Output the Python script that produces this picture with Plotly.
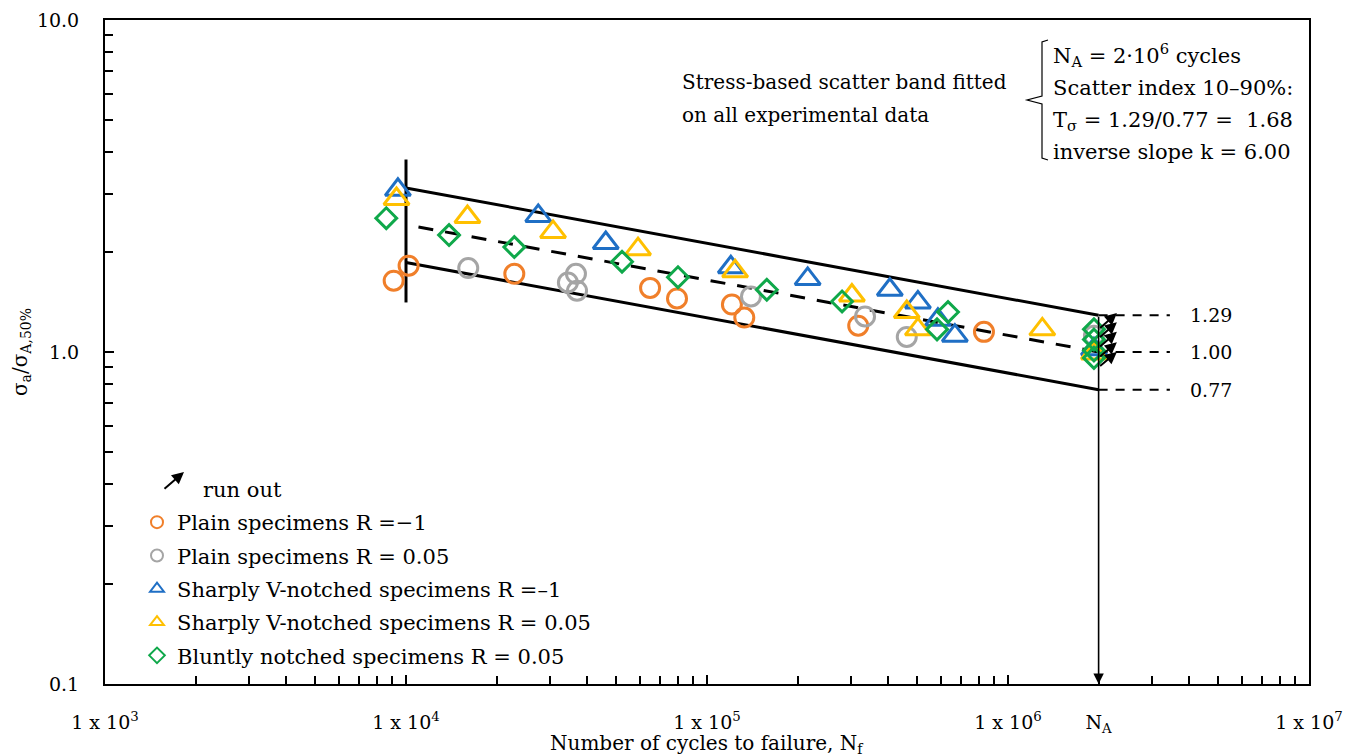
import math
import plotly.graph_objects as go

# ---------------- data ----------------
plain_m1_x = [9100, 10200, 22900, 64700, 79500, 121000, 133000, 318000, 832000]
plain_m1_y = [1.64, 1.82, 1.72, 1.56, 1.45, 1.39, 1.27, 1.20, 1.15]

plain_005_x = [16100, 34500, 36700, 37000, 140000, 335000, 461000, 1930000]
plain_005_y = [1.79, 1.62, 1.72, 1.53, 1.47, 1.28, 1.11, 1.12]

sharp_m1_x = [9400, 27500, 46100, 120000, 216000, 405000, 502000, 585000, 666000, 1930000]
sharp_m1_y = [3.08, 2.57, 2.13, 1.80, 1.66, 1.54, 1.41, 1.25, 1.12, 1.02]

sharp_005_x = [9300, 16000, 30800, 59000, 124000, 303000, 461000, 502000, 1300000, 1930000]
sharp_005_y = [2.89, 2.55, 2.30, 2.04, 1.75, 1.48, 1.32, 1.17, 1.17, 0.99]

blunt_005_x = [8600, 13900, 22900, 52200, 80100, 158000, 281000, 581000, 632000,
               1930000, 1930000, 1930000, 1930000]
blunt_005_y = [2.53, 2.25, 2.07, 1.87, 1.68, 1.54, 1.42, 1.17, 1.32,
               1.17, 1.09, 1.01, 0.96]

N_A = 2e6
band_x = [1e4, N_A]
band_upper = [3.12, 1.29]
band_lower = [1.86, 0.77]
mean_x = [1.1e4, N_A]
mean_y = [2.38, 1.00]
start_line_x = [1e4, 1e4]
start_line_y = [1.41, 3.80]

levels = [1.29, 1.00, 0.77]
level_labels = ["1.29", "1.00", "0.77"]
level_end_x = 3.45e6
level_label_x = 3.95e6

runout_tail_x = [2.0e6, 2.0e6, 2.0e6, 2.0e6, 2.0e6]
runout_tail_y = [1.17, 1.10, 1.03, 0.96, 0.90]
runout_head_x = [2.3e6, 2.3e6, 2.3e6, 2.3e6, 2.3e6]
runout_head_y = [1.31, 1.23, 1.15, 1.07, 1.00]

x_tickvals = [1e3, 1e4, 1e5, 1e6, N_A, 1e7]
x_ticktext = ["1 x 10<sup>3</sup>", "1 x 10<sup>4</sup>", "1 x 10<sup>5</sup>",
              "1 x 10<sup>6</sup>", "N<sub>A</sub>", "1 x 10<sup>7</sup>"]
y_tickvals = [0.1, 1, 10]
y_ticktext = ["0.1", "1.0", "10.0"]

x_title = "Number of cycles to failure, N<sub>f</sub>"
y_title = "\u03c3<sub>a</sub>/\u03c3<sub>A,50%</sub>"

left_note_lines = ["Stress-based scatter band fitted", "on all experimental data"]
right_note_lines = ["N<sub>A</sub> = 2\u00b710<sup>6</sup> cycles",
                    "Scatter index 10\u201390%:",
                    "T<sub>\u03c3</sub> = 1.29/0.77 =  1.68",
                    "inverse slope k = 6.00"]

FONT = "DejaVu Serif"
ORANGE = "#F07F2A"
GRAY = "#A5A5A5"
BLUE = "#1F6FC5"
YELLOW = "#FFC000"
GREEN = "#0FA84A"

fig = go.Figure()

# band lines
fig.add_trace(go.Scatter(x=band_x, y=band_upper, mode="lines",
                         line=dict(color="black", width=3), showlegend=False, hoverinfo="skip"))
fig.add_trace(go.Scatter(x=band_x, y=band_lower, mode="lines",
                         line=dict(color="black", width=3), showlegend=False, hoverinfo="skip"))
fig.add_trace(go.Scatter(x=mean_x, y=mean_y, mode="lines",
                         line=dict(color="black", width=3, dash="15px,12px"),
                         showlegend=False, hoverinfo="skip"))
fig.add_trace(go.Scatter(x=start_line_x, y=start_line_y, mode="lines",
                         line=dict(color="black", width=3), showlegend=False, hoverinfo="skip"))
for lv in levels:
    fig.add_trace(go.Scatter(x=[N_A, level_end_x], y=[lv, lv], mode="lines",
                             line=dict(color="black", width=2, dash="9px,8px"),
                             showlegend=False, hoverinfo="skip"))

series = [
    ("Plain specimens R =\u22121", plain_m1_x, plain_m1_y, ORANGE, "circle-open", 19),
    ("Plain specimens R = 0.05", plain_005_x, plain_005_y, GRAY, "circle-open", 19),
    ("Sharply V-notched specimens R =\u20131", sharp_m1_x, sharp_m1_y, BLUE, "triangle-up-open", 22),
    ("Sharply V-notched specimens R = 0.05", sharp_005_x, sharp_005_y, YELLOW, "triangle-up-open", 22),
    ("Bluntly notched specimens R = 0.05", blunt_005_x, blunt_005_y, GREEN, "diamond-open", 16),
]
for i, (name, xs, ys, col, sym, sz) in enumerate(series):
    fig.add_trace(go.Scatter(x=xs, y=ys, mode="markers", name=name, legendgroup=f"g{i}",
                             marker=dict(symbol=sym, size=sz, color=col,
                                         line=dict(color=col, width=3))))

annotations = []
# run-out arrows
for tx, ty, hx, hy in zip(runout_tail_x, runout_tail_y, runout_head_x, runout_head_y):
    annotations.append(dict(x=math.log10(hx), y=math.log10(hy), ax=math.log10(tx), ay=math.log10(ty),
                            xref="x", yref="y", axref="x", ayref="y", text="", showarrow=True,
                            arrowhead=2, arrowsize=1.2, arrowwidth=2, arrowcolor="black"))
# vertical arrow at N_A
annotations.append(dict(x=math.log10(N_A), y=-1, ax=math.log10(N_A), ay=math.log10(band_upper[1]),
                        xref="x", yref="y", axref="x", ayref="y", text="", showarrow=True,
                        arrowhead=2, arrowsize=1.3, arrowwidth=1.6, arrowcolor="black"))
# level labels
for lv, lab in zip(levels, level_labels):
    annotations.append(dict(x=math.log10(level_label_x), y=math.log10(lv), xref="x", yref="y",
                            text=lab, showarrow=False, xanchor="left", yanchor="middle",
                            font=dict(family=FONT, size=19, color="black")))

def px(xp):
    return (xp - 105) / 1204.0

def py(yp):
    return (684 - yp) / 664.0

for line, yy in zip(left_note_lines, [82, 115]):
    annotations.append(dict(x=px(680), y=py(yy), xref="paper", yref="paper", xanchor="left",
                            yanchor="middle", showarrow=False, text=line,
                            font=dict(family=FONT, size=20, color="black")))
for line, yy in zip(right_note_lines, [55, 88, 121, 152]):
    annotations.append(dict(x=px(1051), y=py(yy), xref="paper", yref="paper", xanchor="left",
                            yanchor="middle", showarrow=False, text=line,
                            font=dict(family=FONT, size=21, color="black")))

# x axis title
annotations.append(dict(x=0.5, y=py(744), xref="paper", yref="paper", xanchor="center",
                        yanchor="middle", showarrow=False, text=x_title,
                        font=dict(family=FONT, size=20, color="black")))

# run out legend entry
annotations.append(dict(x=px(184), y=py(472), ax=-21, ay=18, xref="paper", yref="paper",
                        axref="pixel", ayref="pixel", text="", showarrow=True,
                        arrowhead=2, arrowsize=1.2, arrowwidth=2, arrowcolor="black"))
annotations.append(dict(x=px(201), y=py(490), xref="paper", yref="paper", xanchor="left", yanchor="middle",
                        showarrow=False, text="run out", font=dict(family=FONT, size=21, color="black")))

# brace
bx0, bxm, bxt = 1048, 1042, 1027
ytop, ymid, ybot = 40, 100, 160
path = (f"M {px(bx0)},{py(ytop)} L {px(bxm)},{py(ytop+2)} L {px(bxm)},{py(ymid-4)} "
        f"L {px(bxt)},{py(ymid)} L {px(bxm)},{py(ymid+4)} L {px(bxm)},{py(ybot-2)} L {px(bx0)},{py(ybot)}")
shapes = [dict(type="path", xref="paper", yref="paper", path=path,
               line=dict(color="black", width=1.2))]

fig.update_layout(
    width=1355, height=756,
    margin=dict(l=105, r=46, t=20, b=72),
    plot_bgcolor="white", paper_bgcolor="white",
    font=dict(family=FONT, size=18, color="black"),
    showlegend=True,
    legend=dict(x=px(137), y=py(502), xanchor="left", yanchor="top",
                bgcolor="rgba(0,0,0,0)", font=dict(family=FONT, size=21),
                itemsizing="constant", tracegroupgap=3, traceorder="grouped"),
    annotations=annotations,
    shapes=shapes,
)
fig.update_xaxes(type="log", range=[3, 7], tickvals=x_tickvals, ticktext=x_ticktext,
                 ticks="inside", ticklen=9, tickwidth=1.5, tickcolor="black",
                 minor=dict(ticks="inside", ticklen=8, tickwidth=1.5, tickcolor="black", dtick="D1", showgrid=False),
                 showline=True, linecolor="black", linewidth=2, mirror=True, automargin=False,
                 showgrid=False, zeroline=False, ticklabelstandoff=20,
                 tickfont=dict(family=FONT, size=19))
fig.update_yaxes(type="log", range=[-1, 1], tickvals=y_tickvals, ticktext=y_ticktext,
                 ticks="inside", ticklen=9, tickwidth=1.5, tickcolor="black",
                 minor=dict(ticks="inside", ticklen=8, tickwidth=1.5, tickcolor="black", dtick="D1", showgrid=False),
                 showline=True, linecolor="black", linewidth=2, mirror=True, automargin=False,
                 showgrid=False, zeroline=False, ticklabelstandoff=20,
                 tickfont=dict(family=FONT, size=19),
                 title=dict(text=y_title, standoff=4, font=dict(family=FONT, size=20)))

fig.write_html("out.html")
